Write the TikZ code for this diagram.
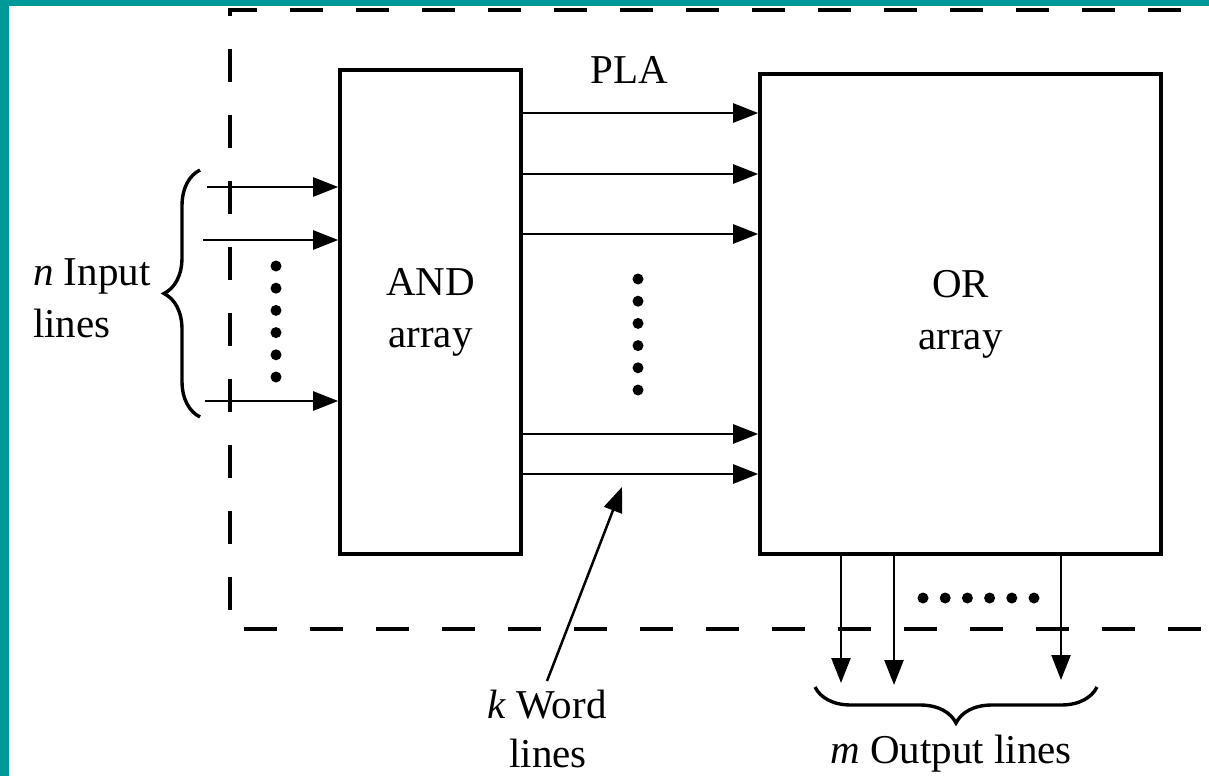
\documentclass[tikz,border=0pt]{standalone}
\usepackage{fontspec}
\setmainfont{Liberation Serif}
\usetikzlibrary{arrows.meta,decorations.pathreplacing}
\definecolor{frameteal}{RGB}{0,153,153}
\begin{document}
\begin{tikzpicture}[x=1pt,y=-1pt,
  lbl/.style={font=\fontsize{41}{52}\selectfont, inner sep=0pt},
  blockbox/.style={draw, line width=3.6pt, inner sep=0pt, lbl, align=center},
  sig/.style={line width=2.5pt, -{Triangle[length=25pt,width=19pt]}},
  plaborder/.style={line width=3.4pt, dash pattern=on 33pt off 33pt, dash phase=38pt, line join=miter},
  brc/.style={line width=3.4pt, decorate, decoration={brace, amplitude=36pt}},
  dotmark/.style={circle, fill, inner sep=0pt, minimum size=11pt}
]
\useasboundingbox (0,0) rectangle (1209,776);
\fill[white] (0,0) rectangle (1209,776);
\fill[frameteal] (0,0) rectangle (9,776);
\fill[frameteal] (0,0) rectangle (1209,6);

% PLA boundary
\draw[plaborder] (1209,10) -- (230,10) -- (230,629) -- (1209,629);
\node[lbl, anchor=base] (pla) at (629,83) {PLA};

% the two arrays
\node[blockbox, minimum width=181pt, minimum height=484pt] (andbox) at (430.5,312) {AND\\array};
\node[blockbox, minimum width=401pt, minimum height=480pt] (orbox) at (960.5,314) {OR\\array};

% input lines
\coordinate (in1) at (207,187);
\coordinate (in2) at (203,240);
\coordinate (in3) at (205,401);
\foreach \c in {in1,in2,in3} \draw[sig] (\c) -- (\c -| andbox.west);
\foreach \k in {0,...,5} \node[dotmark] (idot\k) at (276,{266+22.2*\k}) {};
\coordinate (ibrbot) at (200,417);
\coordinate (ibrtop) at (200,170);
\draw[brc] (ibrbot) -- (ibrtop);
\node[lbl, anchor=base west] (nin) at (33,285) {\textit{n} Input};
\node[lbl, anchor=base west] (nlines) at (33,337) {lines};

% word lines
\foreach \y [count=\i] in {113,174,234,434,474} {
  \coordinate (w\i) at (500,\y);
  \draw[sig] (w\i -| andbox.east) -- (w\i -| orbox.west);
}
\foreach \k in {0,...,5} \node[dotmark] (wdot\k) at (638,{279+22.2*\k}) {};
\coordinate (ptail) at (547,681);
\coordinate (ptip) at (622,487);
\draw[sig] (ptail) -- (ptip);
\node[lbl, anchor=base] (kword) at (547,718) {\textit{k} Word};
\node[lbl, anchor=base] (klines) at (548,767) {lines};

% output lines
\coordinate (o1) at (841,683);
\coordinate (o2) at (894,685);
\coordinate (o3) at (1061,680);
\foreach \c in {o1,o2,o3} \draw[sig] (\c |- orbox.south) -- (\c);
\foreach \k in {0,...,5} \node[dotmark] (odot\k) at ({923+22.2*\k},598) {};
\coordinate (obrright) at (1097,687);
\coordinate (obrleft) at (815,687);
\draw[brc] (obrright) -- (obrleft);
\node[lbl, anchor=base] (mout) at (951,763) {\textit{m} Output lines};
\end{tikzpicture}
\end{document}
